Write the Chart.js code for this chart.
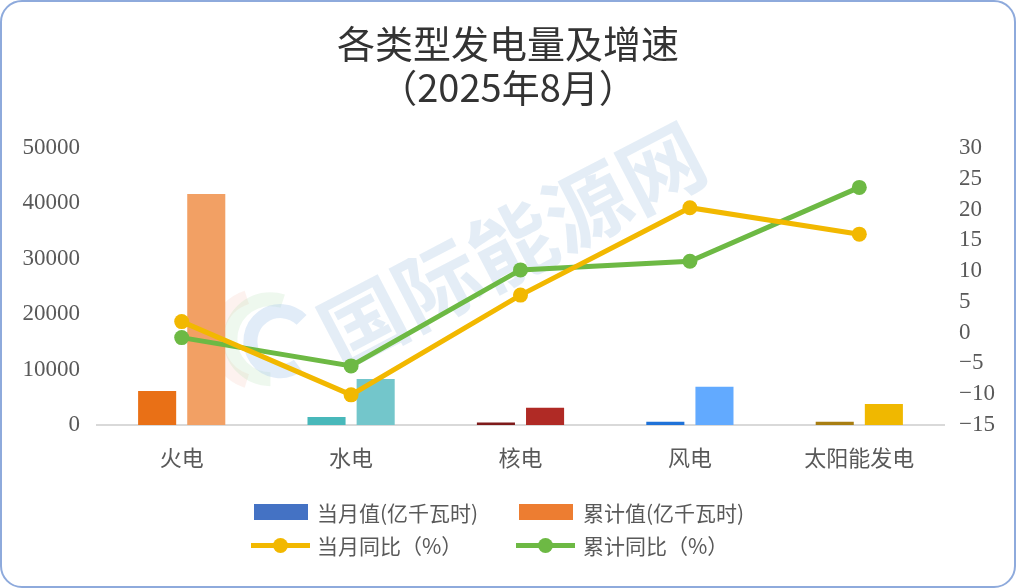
<!DOCTYPE html>
<html>
<head>
<meta charset="utf-8">
<script src="https://cdn.jsdelivr.net/npm/chart.js@4.4.1/dist/chart.umd.min.js"></script>
<style>
  html, body { margin: 0; padding: 0; background: #fff; }
  #frame { position: relative; width: 1016px; height: 588px; overflow: hidden; background: #fff; }
  #frame canvas { position: absolute; left: 0; top: 0; }
  #border {
    position: absolute; left: 0; top: 0; width: 1016px; height: 588px;
    box-sizing: border-box; border: 2px solid #8EAADC; border-radius: 22px; pointer-events: none;
  }
  .lg-text {
    position: absolute; height: 24px; line-height: 24px; white-space: nowrap;
    font-family: "Noto Sans CJK SC", sans-serif; font-size: 21px; color: #595959;
  }
  .lg-box { position: absolute; height: 16px; width: 54px; }
  .lg-line { position: absolute; height: 5px; width: 59px; }
  .lg-dot { position: absolute; width: 15px; height: 15px; border-radius: 50%; }
</style>
</head>
<body>
<div id="frame">
  <canvas id="chart" width="1016" height="588"></canvas>
  <div id="legend"></div>
  <div id="border"></div>
</div>
<script>
const titleLines = ["各类型发电量及增速", "（2025年8月）"];
const categories = ["火电", "水电", "核电", "风电", "太阳能发电"];
const seriesNames = ["当月值(亿千瓦时)", "累计值(亿千瓦时)", "当月同比（%）", "累计同比（%）"];

// 亿千瓦时
const monthValue = [6150, 1450, 430, 600, 600];
const cumValue = [41700, 8300, 3100, 6900, 3800];
// %
const monthYoY = [1.8, -10.1, 6.1, 20.3, 16.0];
const cumYoY = [-0.8, -5.4, 10.2, 11.6, 23.6];

const leftAxis = { min: 0, max: 50000, step: 10000 };
const rightAxis = { min: -15, max: 30, step: 5 };

const monthColors = ["#E97016", "#48B8BA", "#7E1A1A", "#1F72D8", "#A87E12"];
const cumColors = ["#F2A064", "#73C6CB", "#B02A25", "#62AAFF", "#F0B800"];
const yellow = "#F2B800";
const green = "#6DB944";

const serif = "'Liberation Serif', 'Noto Sans CJK SC', serif";
const sans = "'Noto Sans CJK SC', sans-serif";

const watermark = {
  id: "watermark",
  beforeDatasetsDraw(chart) {
    const { ctx, chartArea: a } = chart;
    ctx.save();
    // logo rings
    const cx = a.left + 0.2 * (a.right - a.left), cy = a.top + 0.69 * (a.bottom - a.top);
    ctx.lineWidth = 14;
    ctx.strokeStyle = "rgba(240,170,150,0.15)";
    ctx.beginPath(); ctx.arc(cx - 6, cy, 44, Math.PI * 0.6, Math.PI * 1.4); ctx.stroke();
    ctx.strokeStyle = "rgba(170,220,170,0.2)";
    ctx.beginPath(); ctx.arc(cx + 4, cy, 40, Math.PI * 0.5, Math.PI * 1.6); ctx.stroke();
    ctx.strokeStyle = "rgba(170,200,235,0.35)";
    ctx.beginPath(); ctx.arc(cx + 14, cy + 2, 30, Math.PI * 0.3, Math.PI * 1.75); ctx.stroke();
    // text
    ctx.translate(a.left + 0.49 * (a.right - a.left), a.top + 0.35 * (a.bottom - a.top));
    ctx.rotate(-27.5 * Math.PI / 180);
    ctx.font = "bold 84px " + sans;
    ctx.fillStyle = "rgba(170,198,228,0.32)";
    ctx.textAlign = "center";
    ctx.textBaseline = "middle";
    ctx.fillText("国际能源网", 0, 0);
    ctx.restore();
  }
};

function fixWidth(w) {
  return (scale) => { scale.width = w; };
}

const chart = new Chart(document.getElementById("chart"), {
  data: {
    labels: categories,
    datasets: [
      {
        type: "line", label: seriesNames[2], data: monthYoY, yAxisID: "y1", order: 0,
        borderColor: yellow, backgroundColor: yellow, borderWidth: 5,
        pointRadius: 7.5, pointBackgroundColor: yellow, pointBorderWidth: 0, tension: 0,
      },
      {
        type: "line", label: seriesNames[3], data: cumYoY, yAxisID: "y1", order: 0,
        borderColor: green, backgroundColor: green, borderWidth: 5,
        pointRadius: 7.5, pointBackgroundColor: green, pointBorderWidth: 0, tension: 0,
      },
      {
        type: "bar", label: seriesNames[0], data: monthValue, yAxisID: "y", order: 1,
        backgroundColor: monthColors, categoryPercentage: 0.58, barPercentage: 0.775,
      },
      {
        type: "bar", label: seriesNames[1], data: cumValue, yAxisID: "y", order: 1,
        backgroundColor: cumColors, categoryPercentage: 0.58, barPercentage: 0.775,
      },
    ],
  },
  options: {
    responsive: false,
    animation: false,
    layout: { padding: { left: 0, right: 0, top: 0, bottom: 113 } },
    plugins: {
      legend: { display: false },
      tooltip: { enabled: false },
      title: {
        display: true,
        text: titleLines,
        color: "#333333",
        font: { family: sans, size: 38, weight: "normal", lineHeight: "44px" },
        padding: { top: 22, bottom: 38 },
      },
    },
    scales: {
      x: {
        grid: { display: false, drawTicks: false },
        border: { display: true, color: "#D9D9D9", width: 2 },
        ticks: { color: "#595959", font: { family: sans, size: 22 }, padding: 19 },
        afterFit: (s) => { s.height = 50; },
      },
      y: {
        position: "left",
        min: leftAxis.min, max: leftAxis.max,
        grid: { display: false, drawTicks: false },
        border: { display: false },
        ticks: {
          stepSize: leftAxis.step, color: "#595959", font: { family: serif, size: 23 }, padding: 17,
          callback: (v) => String(v),
        },
        afterFit: fixWidth(97),
      },
      y1: {
        position: "right",
        min: rightAxis.min, max: rightAxis.max,
        grid: { display: false, drawTicks: false },
        border: { display: false },
        ticks: {
          stepSize: rightAxis.step, color: "#595959", font: { family: serif, size: 23 }, padding: 15,
          callback: (v) => (v < 0 ? "\u2212" + Math.abs(v) : String(v)),
        },
        afterFit: fixWidth(72),
      },
    },
  },
  plugins: [watermark],
});

// legend, two rows like the original
const legendSpec = [
  { kind: "box", color: "#4472C4", x: 254, y: 512, tx: 317 },
  { kind: "box", color: "#ED7D31", x: 519, y: 512, tx: 583 },
  { kind: "line", color: yellow, x: 251, y: 545, tx: 317 },
  { kind: "line", color: green, x: 516, y: 545, tx: 583 },
];
const legendEl = document.getElementById("legend");
legendSpec.forEach((it, i) => {
  if (it.kind === "box") {
    const b = document.createElement("div");
    b.className = "lg-box";
    b.style.cssText = `left:${it.x}px;top:${it.y - 8}px;background:${it.color}`;
    legendEl.appendChild(b);
  } else {
    const l = document.createElement("div");
    l.className = "lg-line";
    l.style.cssText = `left:${it.x}px;top:${it.y - 2.5}px;background:${it.color}`;
    legendEl.appendChild(l);
    const d = document.createElement("div");
    d.className = "lg-dot";
    d.style.cssText = `left:${it.x + 22}px;top:${it.y - 7.5}px;background:${it.color}`;
    legendEl.appendChild(d);
  }
  const t = document.createElement("div");
  t.className = "lg-text";
  t.style.cssText = `left:${it.tx}px;top:${it.y - 12}px`;
  t.textContent = chart.data.datasets.find((ds) => ds.label === seriesNames[i]).label;
  legendEl.appendChild(t);
});
</script>
</body>
</html>
